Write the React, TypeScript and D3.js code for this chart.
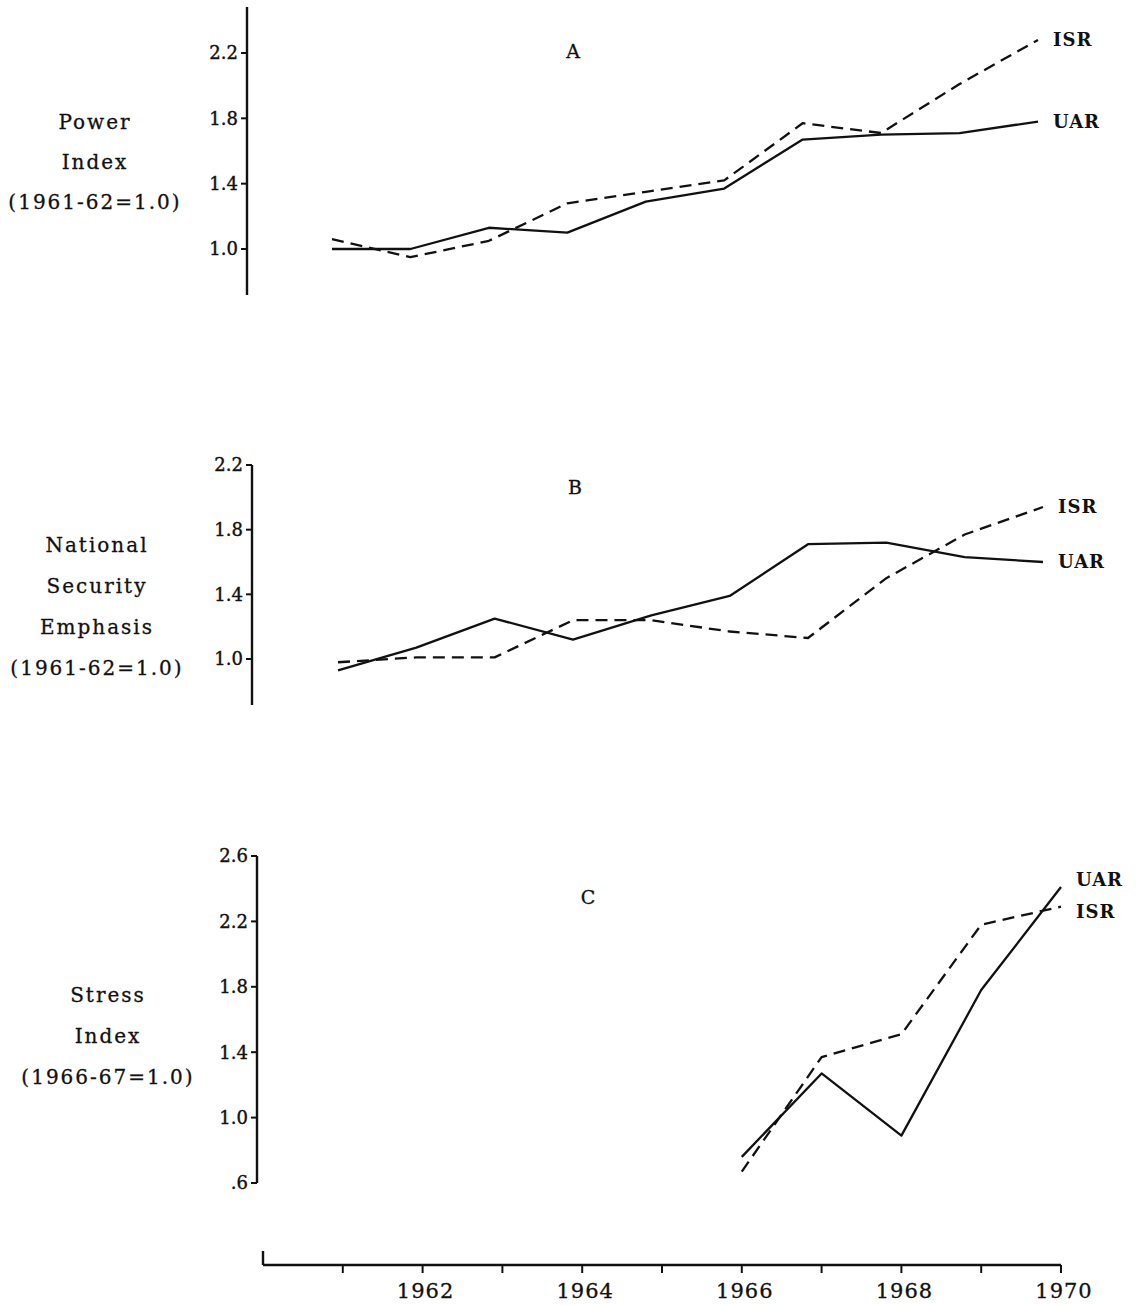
import React from "react";
import * as d3 from "d3";

const years = [1961, 1962, 1963, 1964, 1965, 1966, 1967, 1968, 1969, 1970];
const powerUAR = [1.0, 1.0, 1.13, 1.1, 1.29, 1.37, 1.67, 1.7, 1.71, 1.78];
const powerISR = [1.06, 0.95, 1.05, 1.28, 1.35, 1.42, 1.77, 1.71, 2.01, 2.28];
const securityUAR = [0.93, 1.07, 1.25, 1.12, 1.27, 1.39, 1.71, 1.72, 1.63, 1.6];
const securityISR = [0.98, 1.01, 1.01, 1.24, 1.24, 1.17, 1.13, 1.5, 1.77, 1.94];
const stressYears = [1966, 1967, 1968, 1969, 1970];
const stressUAR = [0.76, 1.27, 0.89, 1.78, 2.41];
const stressISR = [0.67, 1.37, 1.51, 2.18, 2.29];
const ticksA = [1.0, 1.4, 1.8, 2.2];
const ticksB = [1.0, 1.4, 1.8, 2.2];
const ticksC = [0.6, 1.0, 1.4, 1.8, 2.2, 2.6];
const axisYears = [1961, 1962, 1963, 1964, 1965, 1966, 1967, 1968, 1969, 1970];
const labelYears = [1962, 1964, 1966, 1968, 1970];

const FONT = "'DejaVu Serif', serif";

type Series = { name: string; values: number[]; dashed: boolean; dy: number };
type PanelCfg = {
  letter: string;
  letterPos: [number, number];
  xs: number[];
  xDomain: [number, number];
  xRange: [number, number];
  axisX: number;
  yDomain: [number, number];
  yRange: [number, number];
  axisTop: number;
  axisBottom: number;
  ticks: number[];
  tickFmt: (v: number) => string;
  title: string[];
  titleX: number;
  titleY: number;
  titleGap: number;
  series: Series[];
};

const fmt1 = (v: number) => v.toFixed(1);
const fmtC = (v: number) => (v < 1 ? "." + Math.round(v * 10) : v.toFixed(1));

const panels: PanelCfg[] = [
  {
    letter: "A",
    letterPos: [573, 58],
    xs: years,
    xDomain: [1961, 1970],
    xRange: [332, 1038],
    axisX: 247,
    yDomain: [1.0, 2.2],
    yRange: [249, 53],
    axisTop: 7,
    axisBottom: 295,
    ticks: ticksA,
    tickFmt: fmt1,
    title: ["Power", "Index", "(1961-62=1.0)"],
    titleX: 95,
    titleY: 122,
    titleGap: 40,
    series: [
      { name: "UAR", values: powerUAR, dashed: false, dy: 0 },
      { name: "ISR", values: powerISR, dashed: true, dy: 0 },
    ],
  },
  {
    letter: "B",
    letterPos: [575, 494],
    xs: years,
    xDomain: [1961, 1970],
    xRange: [338, 1043],
    axisX: 252,
    yDomain: [1.0, 2.2],
    yRange: [659, 465],
    axisTop: 465,
    axisBottom: 705,
    ticks: ticksB,
    tickFmt: fmt1,
    title: ["National", "Security", "Emphasis", "(1961-62=1.0)"],
    titleX: 97,
    titleY: 545,
    titleGap: 41,
    series: [
      { name: "UAR", values: securityUAR, dashed: false, dy: 0 },
      { name: "ISR", values: securityISR, dashed: true, dy: 0 },
    ],
  },
  {
    letter: "C",
    letterPos: [588, 904],
    xs: stressYears,
    xDomain: [1960, 1970],
    xRange: [263, 1061],
    axisX: 257,
    yDomain: [0.6, 2.6],
    yRange: [1183, 856],
    axisTop: 856,
    axisBottom: 1183,
    ticks: ticksC,
    tickFmt: fmtC,
    title: ["Stress", "Index", "(1966-67=1.0)"],
    titleX: 108,
    titleY: 995,
    titleGap: 41,
    series: [
      { name: "UAR", values: stressUAR, dashed: false, dy: -7 },
      { name: "ISR", values: stressISR, dashed: true, dy: 5 },
    ],
  },
];

function Panel({ p }: { p: PanelCfg }) {
  const x = d3.scaleLinear().domain(p.xDomain).range(p.xRange);
  const y = d3.scaleLinear().domain(p.yDomain).range(p.yRange);
  return (
    <g>
      <line x1={p.axisX} x2={p.axisX} y1={p.axisTop} y2={p.axisBottom} stroke="#111" strokeWidth={2.4} />
      {p.ticks.map((t) => (
        <g key={t}>
          <line x1={p.axisX - 6} x2={p.axisX} y1={y(t)} y2={y(t)} stroke="#111" strokeWidth={2} />
          <text
            x={p.axisX - 9}
            y={y(t)}
            dy="0.35em"
            textAnchor="end"
            fontFamily={FONT}
            fontSize={18}
            fill="#111"
            stroke="#111"
            strokeWidth={0.4}
          >
            {p.tickFmt(t)}
          </text>
        </g>
      ))}
      {p.title.map((s, i) => (
        <text
          key={s}
          x={p.titleX}
          y={p.titleY + i * p.titleGap}
          dy="0.35em"
          textAnchor="middle"
          fontFamily={FONT}
          fontSize={20}
          letterSpacing={2}
          fill="#111"
          stroke="#111"
          strokeWidth={0.3}
        >
          {s}
        </text>
      ))}
      <text
        x={p.letterPos[0]}
        y={p.letterPos[1]}
        textAnchor="middle"
        fontFamily={FONT}
        fontSize={19}
        fill="#111"
        stroke="#111"
        strokeWidth={0.3}
      >
        {p.letter}
      </text>
      {p.series.map((s) => {
        const pts = s.values.map((v, i) => [x(p.xs[i]), y(v)] as [number, number]);
        const path = d3.line()(pts) || "";
        const last = pts[pts.length - 1];
        return (
          <g key={s.name}>
            <path
              d={path}
              fill="none"
              stroke="#111"
              strokeWidth={2.3}
              strokeDasharray={s.dashed ? "12 7" : undefined}
              strokeLinejoin="round"
            />
            <text
              x={last[0] + 15}
              y={last[1] + s.dy}
              dy="0.35em"
              fontFamily={FONT}
              fontSize={18}
              fontWeight="bold"
              letterSpacing={1}
              fill="#111"
            >
              {s.name}
            </text>
          </g>
        );
      })}
    </g>
  );
}

function XAxis() {
  const x = d3.scaleLinear().domain([1960, 1970]).range([263, 1061]);
  const y0 = 1265;
  return (
    <g>
      <line x1={x(1960)} x2={x(1970)} y1={y0} y2={y0} stroke="#111" strokeWidth={2.4} />
      <line x1={x(1960)} x2={x(1960)} y1={y0 - 14} y2={y0} stroke="#111" strokeWidth={2.4} />
      {axisYears.map((yr) => (
        <line key={yr} x1={x(yr)} x2={x(yr)} y1={y0} y2={y0 + 8} stroke="#111" strokeWidth={2} />
      ))}
      {labelYears.map((yr) => (
        <text
          key={yr}
          x={x(yr) + 3}
          y={1298}
          textAnchor="middle"
          fontFamily={FONT}
          fontSize={21}
          letterSpacing={1}
          fill="#111"
          stroke="#111"
          strokeWidth={0.3}
        >
          {yr}
        </text>
      ))}
    </g>
  );
}

export default function App() {
  return (
    <svg
      width={1136}
      height={1305}
      viewBox="0 0 1136 1305"
      style={{ position: "absolute", left: 0, top: 0, background: "#fff" }}
    >
      <rect x={0} y={0} width={1136} height={1305} fill="#fff" />
      {panels.map((p) => (
        <Panel key={p.letter} p={p} />
      ))}
      <XAxis />
    </svg>
  );
}
